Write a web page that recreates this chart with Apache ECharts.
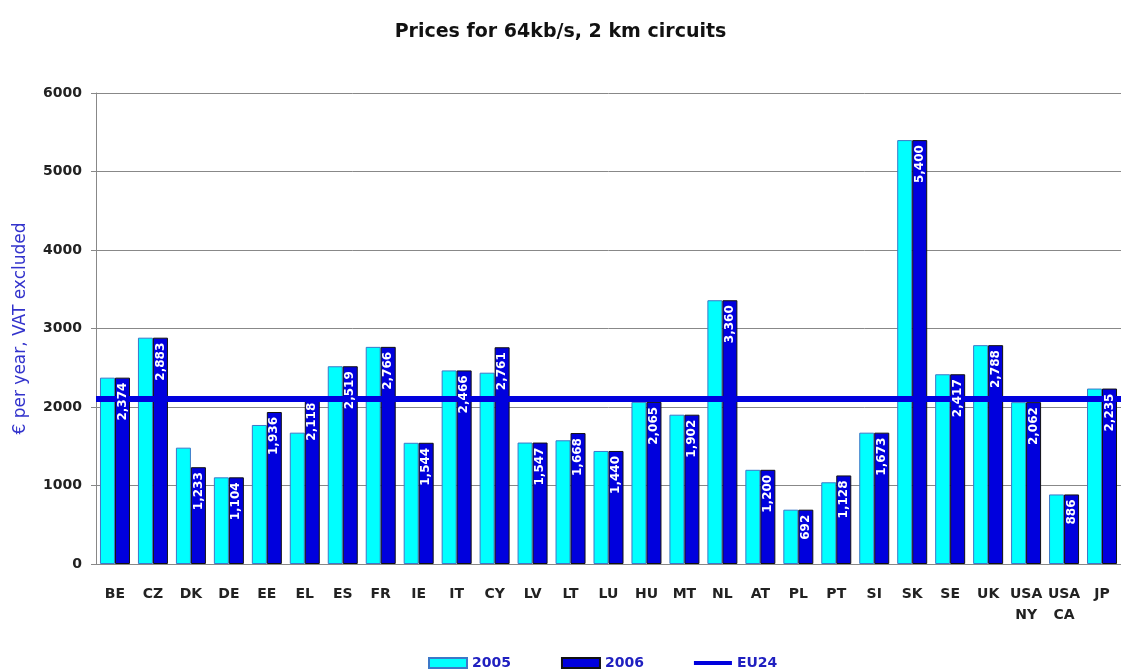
<!DOCTYPE html>
<html>
<head>
<meta charset="utf-8">
<script src="https://cdn.jsdelivr.net/npm/echarts@6/dist/echarts.min.js"></script>
<style>
  html, body { margin: 0; padding: 0; background: #fff; }
  #chart { width: 1121px; height: 670px; }
</style>
</head>
<body>
<div id="chart"></div>
<script>
// 国家/地区
const countries = ['BE', 'CZ', 'DK', 'DE', 'EE', 'EL', 'ES', 'FR', 'IE', 'IT', 'CY', 'LV', 'LT', 'LU',
  'HU', 'MT', 'NL', 'AT', 'PL', 'PT', 'SI', 'SK', 'SE', 'UK', 'USA\nNY', 'USA\nCA', 'JP'];
// 2005 prices
const prices2005 = [2374, 2883, 1482, 1104, 1771, 1673, 2519, 2766, 1544, 2466, 2437, 1547, 1576, 1440,
  2065, 1902, 3360, 1200, 692, 1041, 1673, 5400, 2417, 2788, 2062, 886, 2235];
// 2006 prices (labelled)
const prices2006 = [2374, 2883, 1233, 1104, 1936, 2118, 2519, 2766, 1544, 2466, 2761, 1547, 1668, 1440,
  2065, 1902, 3360, 1200, 692, 1128, 1673, 5400, 2417, 2788, 2062, 886, 2235];
// EU24 average
const eu24 = [2100];
const yTicks = [0, 1000, 2000, 3000, 4000, 5000, 6000];

const font = '"DejaVu Sans", "Liberation Sans", sans-serif';
const BAR_W = 15;
const chart = echarts.init(document.getElementById('chart'));

chart.setOption({
  animation: false,
  title: {
    text: 'Prices for 64kb/s, 2 km circuits',
    left: 'center',
    top: 18,
    textStyle: { fontFamily: font, fontSize: 19, fontWeight: 'bold', color: '#111' }
  },
  legend: {
    top: 651,
    left: 423,
    itemGap: 50,
    itemWidth: 38,
    itemHeight: 10,
    textStyle: { fontFamily: font, fontSize: 14, fontWeight: 'bold', color: '#2020c0' },
    data: [
      { name: '2005', icon: 'rect' },
      { name: '2006', icon: 'rect' },
      { name: 'EU24', icon: 'path://M0,0L40,0L40,4L0,4Z' }
    ]
  },
  grid: { left: 96, top: 93, bottom: 106, width: 1035 },
  xAxis: {
    type: 'category',
    data: countries,
    axisLine: { lineStyle: { color: '#888' } },
    axisTick: { show: false },
    axisLabel: {
      interval: 0,
      fontFamily: font, fontSize: 14, fontWeight: 'bold', color: '#222',
      margin: 20, lineHeight: 21
    }
  },
  yAxis: {
    type: 'value',
    min: yTicks[0],
    max: yTicks[yTicks.length - 1],
    interval: 1000,
    name: '€ per year, VAT excluded',
    nameLocation: 'middle',
    nameGap: 67,
    nameTextStyle: { fontFamily: font, fontSize: 17, color: '#3333cc' },
    axisLine: { show: true, lineStyle: { color: '#888' } },
    axisTick: { show: true, length: 5, lineStyle: { color: '#888' } },
    axisLabel: {
      fontFamily: font, fontSize: 14, fontWeight: 'bold', color: '#222', margin: 14,
      formatter: v => String(v)
    },
    splitLine: { lineStyle: { color: '#888', width: 1 } }
  },
  series: [
    {
      name: '2005',
      type: 'bar',
      data: prices2005,
      barWidth: BAR_W,
      barGap: '0%',
      itemStyle: { color: '#00ffff', borderColor: '#3c78c8', borderWidth: 1 }
    },
    {
      name: '2006',
      type: 'bar',
      data: prices2006,
      barWidth: BAR_W,
      itemStyle: { color: '#0000dd', borderColor: '#111', borderWidth: 1 }
    },
    {
      name: 'EU24',
      type: 'line',
      data: [],
      symbol: 'none',
      itemStyle: { color: '#0000dd' },
      lineStyle: { color: '#0000dd', width: 6 },
      markLine: {
        silent: true,
        symbol: 'none',
        label: { show: false },
        lineStyle: { color: '#0000dd', width: 6, type: 'solid' },
        data: [{ yAxis: eu24[0] }]
      }
    },
    {
      // 2006 value labels, drawn above the EU24 line
      name: 'labels2006',
      type: 'custom',
      silent: true,
      z: 10,
      data: prices2006.map((v, i) => [i, v]),
      encode: { x: 0, y: 1 },
      renderItem: (params, api) => {
        const pt = api.coord([api.value(0), api.value(1)]);
        return {
          type: 'text',
          x: pt[0] + BAR_W / 2,
          y: pt[1] + 5,
          rotation: Math.PI / 2,
          style: {
            text: api.value(1).toLocaleString('en-US'),
            fill: '#fff',
            font: 'bold 12px "DejaVu Sans"',
            align: 'right',
            verticalAlign: 'middle'
          }
        };
      }
    }
  ]
});
</script>
</body>
</html>
